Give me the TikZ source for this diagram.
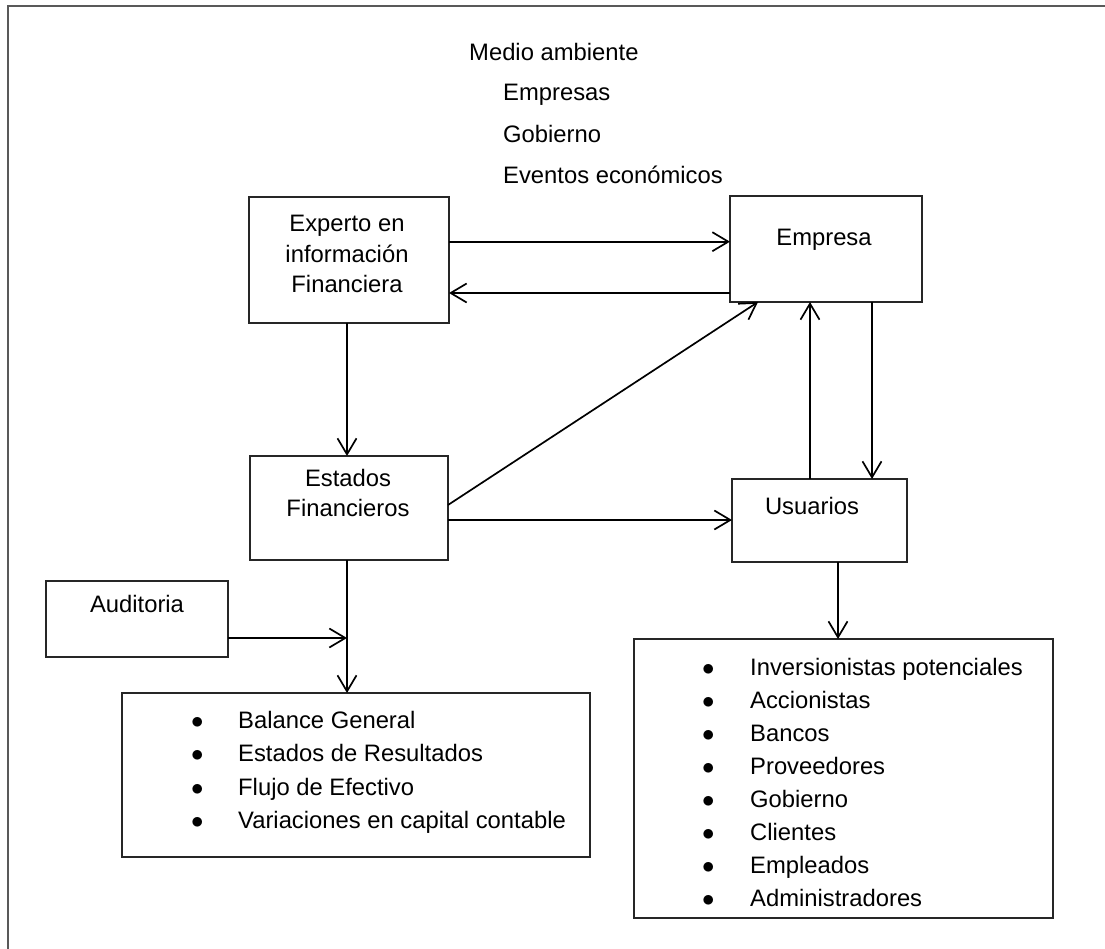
\documentclass[tikz,border=0pt]{standalone}
\usepackage{fontspec}
\setmainfont{Liberation Sans}
\usetikzlibrary{calc,arrows.meta}

\tikzset{
    caja/.style={draw=black!85, line width=1.3pt, inner sep=0pt, outer sep=0pt, anchor=north west},
    texto/.style={inner sep=0pt, font=\fontsize{23.8pt}{30.5pt}\selectfont},
    lista/.style={texto, anchor=base west},
    flecha/.style={line width=1.7pt, -{Straight Barb[length=16pt,width=19pt]}},
}

\begin{document}
\begin{tikzpicture}[x=1pt,y=-1pt]
    \useasboundingbox (0,0) rectangle (1105,949);
    \draw[line width=2pt, black!65] (8,949) -- (8,6.5) -- (1105,6.5);

    % medio ambiente
    \node[texto, anchor=base west] (medio) at (469,61) {Medio ambiente};
    \node[texto, anchor=base west] (amb1) at (503,101) {Empresas};
    \node[texto, anchor=base west] (amb2) at (503,143) {Gobierno};
    \node[texto, anchor=base west] (amb3) at (503,184) {Eventos económicos};

    % cajas
    \node[caja, minimum width=200pt, minimum height=126pt] (experto) at (249,197) {};
    \node[caja, minimum width=192pt, minimum height=106pt] (empresa) at (730,196) {};
    \node[caja, minimum width=198pt, minimum height=104pt] (estados) at (250,456) {};
    \node[caja, minimum width=175pt, minimum height=83pt] (usuarios) at (732,479) {};
    \node[caja, minimum width=182pt, minimum height=76pt] (auditoria) at (46,581) {};
    \node[caja, minimum width=468pt, minimum height=164pt] (estfin) at (122,693) {};
    \node[caja, minimum width=419pt, minimum height=279pt] (tipos) at (634,639) {};

    % textos de las cajas
    \node[texto, anchor=north, align=center] (tExperto) at (347,215) {Experto en\\información\\Financiera};
    \node[texto, anchor=base] (tEmpresa) at (824,245.5) {Empresa};
    \node[texto, anchor=north, align=center] (tEstados) at (348,469) {Estados\\Financieros};
    \node[texto, anchor=base] (tUsuarios) at (812,514.5) {Usuarios};
    \node[texto, anchor=base] (tAuditoria) at (137,612) {Auditoria};

    \foreach \t [count=\i] in {Balance General, Estados de Resultados, Flujo de Efectivo, Variaciones en capital contable}
        \node[lista] (bal\i) at (191,694.5+33.5*\i) {\makebox[47pt][l]{$\bullet$}\t};
    \foreach \t [count=\i] in {Inversionistas potenciales, Accionistas, Bancos, Proveedores, Gobierno, Clientes, Empleados, Administradores}
        \node[lista] (usr\i) at (702,642+33*\i) {\makebox[48pt][l]{$\bullet$}\t};

    % flechas
    \coordinate (union) at (347,638);
    \draw[flecha] (experto.east |- 0,241.7) -- (empresa.west |- 0,241.7);
    \draw[flecha] (empresa.west |- 0,293) -- (experto.east |- 0,293);
    \draw[flecha] (experto.south -| 347,0) -- (estados.north -| 347,0);
    \draw[flecha] (estados.east |- 0,505) -- ([xshift=28pt]empresa.south west);
    \draw[flecha] (estados.east |- 0,520) -- (usuarios.west |- 0,520);
    \draw[flecha] (usuarios.north -| 810,0) -- (empresa.south -| 810,0);
    \draw[flecha] (empresa.south -| 872,0) -- (usuarios.north -| 872,0);
    \draw[flecha] (estados.south -| 347,0) -- (estfin.north -| 347,0);
    \draw[flecha] (auditoria.east |- union) -- (union);
    \draw[flecha] (usuarios.south -| 838,0) -- (tipos.north -| 838,0);
\end{tikzpicture}
\end{document}
